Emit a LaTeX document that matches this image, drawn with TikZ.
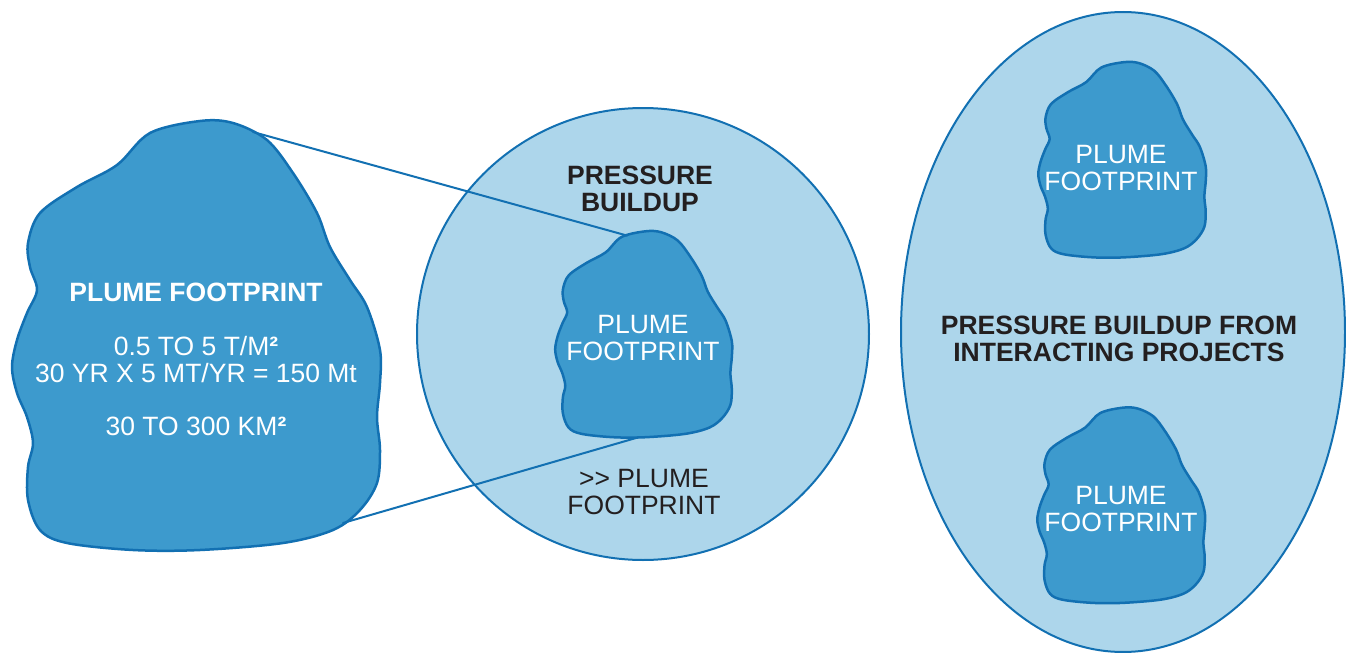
\documentclass[tikz,border=0pt]{standalone}
\usepackage{fontspec}
\setmainfont{Liberation Sans}
\definecolor{zonefill}{RGB}{173,214,235}
\definecolor{plumefill}{RGB}{61,154,205}
\definecolor{edgeblue}{RGB}{18,112,178}
\definecolor{inkdark}{RGB}{35,31,32}
\tikzset{
 zone/.style={fill=zonefill, draw=edgeblue, line width=1pt},
 plume/.style={fill=plumefill, draw=edgeblue, line width=1.25pt, line join=round},
 link/.style={draw=edgeblue, line width=1pt},
 lbl/.style={font=\fontsize{13.25}{13.5}\selectfont, align=center, inner sep=0pt},
 white lbl/.style={lbl, text=white},
 dark lbl/.style={lbl, text=inkdark}
}
\newcommand\plumeblob{%
 \draw[plume] plot[smooth cycle, tension=0.55] coordinates {
 (4,-215) (-46,-203) (-79,-171) (-119,-149) (-156,-123) (-168,-93) (-166,-69)
 (-159,-46) (-169,-23) (-179,4) (-184,31) (-179,57) (-169,81) (-163,107)
 (-168,131) (-168,164) (-156,194) (-129,207) (-63,214) (4,214) (87,207)
 (137,194) (164,174) (181,147) (184,114) (181,81) (184,47) (184,14)
 (171,-29) (154,-56) (134,-89) (121,-123) (97,-163) (71,-196) (37,-213)};}
\begin{document}
\begin{tikzpicture}[x=0.5pt, y=-0.5pt, line cap=round]
 \useasboundingbox (0,0) rectangle (1346,653);
 % single project
 \begin{scope}[shift={(196,336)}]
 \plumeblob
 \coordinate (bigN) at (57,-204);
 \coordinate (bigS) at (147,187);
 \end{scope}
 \draw[zone] (643,334) circle (226);
 \begin{scope}[shift={(643.5,334.5)}, scale=0.48]
 \plumeblob
 \coordinate (midN) at (-34,-206);
 \coordinate (midS) at (-10,214);
 \end{scope}
 \draw[link] (bigN)--(midN);
 \draw[link] (bigS)--(midS);
 % interacting projects
 \draw[zone] (1123,332) ellipse [x radius=222, y radius=320];
 \begin{scope}[shift={(1122,160)}, scale=0.455]
 \plumeblob
 \end{scope}
 \begin{scope}[shift={(1121,505.5)}, scale=0.455]
 \plumeblob
 \end{scope}
 \node[white lbl] (bigtxt) at (196,359) {{\bfseries PLUME FOOTPRINT}\\[13.5pt]
 0.5 TO 5 T/M{\bfseries ²}\\30 YR X 5 MT/YR = 150 Mt\\[13pt]30 TO 300 KM{\bfseries ²}};
 \node[dark lbl, font=\fontsize{13.25}{13.5}\selectfont\bfseries] (buildup) at (640,189) {PRESSURE\\BUILDUP};
 \node[white lbl] (midtxt) at (643,338) {PLUME\\FOOTPRINT};
 \node[dark lbl] (beyond) at (644,492) {>{}> PLUME\\FOOTPRINT};
 \node[white lbl] (toptxt) at (1121,168) {PLUME\\FOOTPRINT};
 \node[dark lbl, font=\fontsize{13.25}{13.5}\selectfont\bfseries] (sharedtxt) at (1119,339) {PRESSURE BUILDUP FROM\\INTERACTING PROJECTS};
 \node[white lbl] (bottxt) at (1121,509) {PLUME\\FOOTPRINT};
\end{tikzpicture}
\end{document}
